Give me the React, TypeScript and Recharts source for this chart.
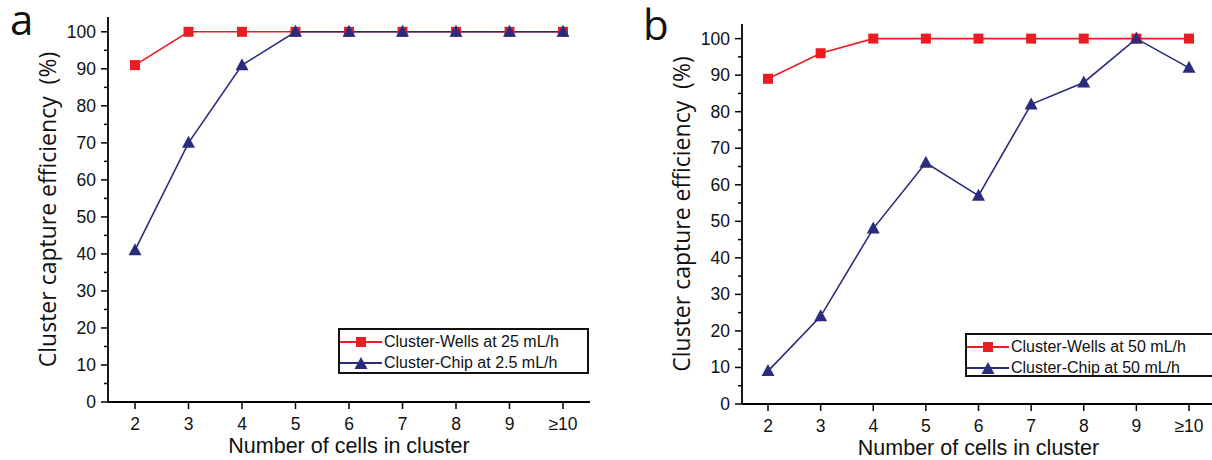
import { LineChart, Line, XAxis, YAxis, Legend, Label } from 'recharts'

const CATEGORIES = ['2', '3', '4', '5', '6', '7', '8', '9', '≥10']

// panel a
const WELLS_25 = [91, 100, 100, 100, 100, 100, 100, 100, 100]
const CHIP_2_5 = [41, 70, 91, 100, 100, 100, 100, 100, 100]

// panel b
const WELLS_50 = [89, 96, 100, 100, 100, 100, 100, 100, 100]
const CHIP_50 = [9, 24, 48, 66, 57, 82, 88, 100, 92]

const Y_TICKS = [0, 5, 10, 15, 20, 25, 30, 35, 40, 45, 50, 55, 60, 65, 70, 75, 80, 85, 90, 95, 100]
const SERIES_ORDER = ['wells', 'chip']

const RED = '#ec1c24'
const NAVY = '#2a2d7e'
const TICK_FONT = '"Liberation Sans", Arial, sans-serif'
const TITLE_FONT = '"Open Sans", "Liberation Sans", sans-serif'

const buildData = (wells: number[], chip: number[]) =>
  CATEGORIES.map((c, i) => ({ cat: c, wells: wells[i], chip: chip[i] }))

const Square = ({ cx, cy, fill }: any) =>
  cx == null ? null : <rect x={cx - 5} y={cy - 5} width={10} height={10} fill={fill} />

const Triangle = ({ cx, cy, fill }: any) =>
  cx == null ? null : (
    <polygon points={`${cx},${cy - 7} ${cx + 6.5},${cy + 5} ${cx - 6.5},${cy + 5}`} fill={fill} />
  )

const YTick = ({ x, y, payload }: any) => {
  const major = payload.value % 10 === 0
  return (
    <g>
      <line x1={x} x2={x - (major ? 7 : 4)} y1={y} y2={y} stroke="#000" strokeWidth={1.5} />
      {major && (
        <text x={x - 12} y={y} textAnchor="end" dominantBaseline="central"
          fontSize={17.5} fontFamily={TICK_FONT} fill="#111">
          {payload.value}
        </text>
      )}
    </g>
  )
}

const XTick = ({ x, y, payload }: any) => (
  <g>
    <line x1={x} x2={x} y1={y} y2={y + 7} stroke="#000" strokeWidth={1.5} />
    <text x={x} y={y + 22} textAnchor="middle" dominantBaseline="central"
      fontSize={17.5} fontFamily={TICK_FONT} fill="#111">
      {payload.value}
    </text>
  </g>
)

const LegendBox = ({ payload }: any) => {
  const items = [...(payload ?? [])].sort(
    (a: any, b: any) => SERIES_ORDER.indexOf(a.dataKey) - SERIES_ORDER.indexOf(b.dataKey))
  return (
    <div style={{
      border: '2px solid #111', boxSizing: 'border-box', width: '100%', height: '100%',
      padding: '1px 0', background: '#fff',
    }}>
      {items.map((e: any) => (
        <div key={e.dataKey} style={{ display: 'flex', alignItems: 'center', height: 21 }}>
          <svg width={44} height={20}>
            <line x1={0} x2={42} y1={10} y2={10} stroke={e.color} strokeWidth={1.8} />
            {e.dataKey === 'wells'
              ? <Square cx={21} cy={10} fill={e.color} />
              : <Triangle cx={21} cy={11} fill={e.color} />}
          </svg>
          <span style={{ fontFamily: TICK_FONT, fontSize: 16, color: '#111', whiteSpace: 'nowrap' }}>
            {e.value}
          </span>
        </div>
      ))}
    </div>
  )
}

type PanelProps = {
  wells: number[]
  chip: number[]
  wellsName: string
  chipName: string
  width: number
  top: number
  yAxisWidth: number
  xAxisHeight: number
  pad: number
  legendPos: { left: number; top: number; width: number; height: number }
}

function Panel({ wells, chip, wellsName, chipName, width, top, yAxisWidth, xAxisHeight, pad, legendPos }: PanelProps) {
  const data = buildData(wells, chip)
  return (
    <LineChart width={width} height={460} data={data}
      margin={{ top, right: 5, bottom: 0, left: 0 }}>
      <XAxis dataKey="cat" height={xAxisHeight} interval={0} padding={{ left: pad, right: pad }}
        axisLine={{ stroke: '#000', strokeWidth: 1.8 }} tickLine={false}
        tickSize={0} tickMargin={0} tick={<XTick />}>
        <Label content={({ viewBox }: any) => (
          <text x={viewBox.x + viewBox.width / 2} y={viewBox.y + 44} textAnchor="middle"
            dominantBaseline="central" fontSize={21.5} fontFamily={TICK_FONT} fill="#111">
            Number of cells in cluster
          </text>
        )} />
      </XAxis>
      <YAxis domain={[0, 104]} ticks={Y_TICKS} width={yAxisWidth} interval={0}
        axisLine={{ stroke: '#000', strokeWidth: 1.8 }} tickLine={false}
        tickSize={0} tickMargin={0} tick={<YTick />}>
        <Label content={({ viewBox }: any) => {
          const cx = viewBox.x + yAxisWidth - 61
          const cy = viewBox.y + viewBox.height / 2
          return (
            <text x={cx} y={cy} transform={`rotate(-90 ${cx} ${cy})`} textAnchor="middle"
              dominantBaseline="central" fontSize={23} fontFamily={TITLE_FONT} fill="#111">
              {'Cluster capture efficiency\u00a0\u00a0(%)'}
            </text>
          )
        }} />
      </YAxis>
      <Legend layout="horizontal" verticalAlign="middle" align="center"
        wrapperStyle={{ left: legendPos.left, top: legendPos.top, width: legendPos.width, height: legendPos.height }}
        content={<LegendBox />} />
      <Line dataKey="wells" name={wellsName} stroke={RED} strokeWidth={1.6}
        dot={<Square fill={RED} />} activeDot={false} isAnimationActive={false} />
      <Line dataKey="chip" name={chipName} stroke={NAVY} strokeWidth={1.6}
        dot={<Triangle fill={NAVY} />} activeDot={false} isAnimationActive={false} />
    </LineChart>
  )
}

export default function App() {
  return (
    <div style={{
      position: 'absolute', left: 0, top: 0, width: 1212, height: 460,
      background: '#fff', overflow: 'hidden',
    }}>
      <div style={{ position: 'absolute', left: 0, top: 0 }}>
        <Panel wells={WELLS_25} chip={CHIP_2_5}
          wellsName="Cluster-Wells at 25 mL/h" chipName="Cluster-Chip at 2.5 mL/h"
          width={595} top={17} yAxisWidth={108} xAxisHeight={58} pad={27}
          legendPos={{ left: 338, top: 328, width: 251, height: 46 }} />
      </div>
      <div style={{ position: 'absolute', left: 610, top: 0 }}>
        <Panel wells={WELLS_50} chip={CHIP_50}
          wellsName="Cluster-Wells at 50 mL/h" chipName="Cluster-Chip at 50 mL/h"
          width={610} top={24} yAxisWidth={132} xAxisHeight={56} pad={26}
          legendPos={{ left: 355, top: 333, width: 262, height: 44 }} />
      </div>
      <svg width={1212} height={60} style={{ position: 'absolute', left: 0, top: 0, pointerEvents: 'none' }}>
        <text x={10} y={35} fontFamily={TITLE_FONT} fontSize={42} fill="#111">a</text>
        <text x={643} y={40} fontFamily={TITLE_FONT} fontSize={42} fill="#111">b</text>
      </svg>
    </div>
  )
}
